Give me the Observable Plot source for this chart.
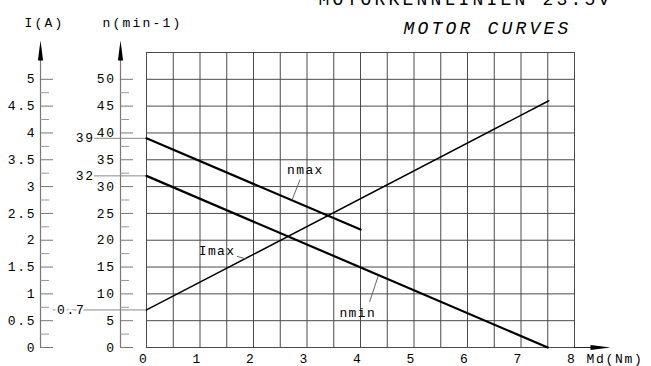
<!DOCTYPE html>
<html>
<head>
<meta charset="utf-8">
<script src="https://cdn.jsdelivr.net/npm/d3@7"></script>
<script src="https://cdn.jsdelivr.net/npm/@observablehq/plot@0.6"></script>
<style>
  body { margin: 0; background: #fff; }
  svg { overflow: hidden; }
  text[aria-label="title"] { letter-spacing: 3.2px; }
  text[aria-label="axis-title"] { letter-spacing: 2.2px; }
  text[aria-label="tick-label"] { letter-spacing: 1.7px; }
  text[aria-label="curve-label"] { letter-spacing: 1.4px; }
</style>
</head>
<body>
<div id="chart"></div>
<script>
// ---- data ----
const torqueTicks = [0, 1, 2, 3, 4, 5, 6, 7, 8];
const speedTicks = [0, 5, 10, 15, 20, 25, 30, 35, 40, 45, 50];
const currentTicks = [0, 0.5, 1, 1.5, 2, 2.5, 3, 3.5, 4, 4.5, 5];
const currentTickLabels = ["0", "0.5", "1", "1.5", "2", "2.5", "3", "3.5", "4", "4.5", "5"];

const nmaxTorque = [0, 4];
const nmaxSpeed = [39, 22];
const nminTorque = [0, 7.5];
const nminSpeed = [32, 0];
const imaxTorque = [0, 7.52];
const imaxCurrent = [0.7, 4.6];

const markedSpeeds = [39, 32];
const markedCurrents = [0.7];

const curveNames = ["nmax", "Imax", "nmin"];
const curveLabelTorque = [2.97, 1.32, 3.95];
const curveLabelSpeed = [33.2, 18.1, 6.5];
const leaderTorque1 = [2.87, 1.69, 4.17];
const leaderSpeed1 = [31.3, 17.0, 8.5];
const leaderTorque2 = [2.72, 1.86, 4.33];
const leaderSpeed2 = [27.5, 16.5, 13.3];

const SPEED_PER_AMP = 10; // current axis: 5 A at the same height as 50 min-1

// ---- layout ----
const W = 651, H = 366;
const xDomain = [0, 8], xRange = [146, 574];
const yDomain = [0, 55], yRange = [347, 52];
const xs = d3.scaleLinear(xDomain, xRange);
const ys = d3.scaleLinear(yDomain, yRange);
const px = p => xs.invert(p);
const py = p => ys.invert(p);
const I_AXIS = 40, N_AXIS = 120;
const LS = 1.7;
const TICK_FONT = 13;
const tag = name => () => name;

const gridX = d3.range(0, 8.001, 0.5);
const gridY = d3.range(0, 55.001, 5);
const minorSpeed = speedTicks.slice(0, -1).map(d => d + 2.5);

const rows = (xa, ya) => xa.map((x, i) => ({x, y: ya[i]}));
const nmaxData = rows(nmaxTorque, nmaxSpeed);
const nminData = rows(nminTorque, nminSpeed);
const imaxData = rows(imaxTorque, imaxCurrent.map(c => c * SPEED_PER_AMP));

const arrowHead = {
  draw(ctx) { ctx.moveTo(0, -20); ctx.lineTo(2.6, 0); ctx.lineTo(-2.6, 0); ctx.closePath(); }
};

const chart = Plot.plot({
  width: W, height: H,
  marginTop: 0, marginRight: 0, marginBottom: 0, marginLeft: 0,
  x: {domain: xDomain, range: xRange, axis: null},
  y: {domain: yDomain, range: yRange, axis: null},
  style: {fontFamily: "'Liberation Mono', 'DejaVu Sans Mono', monospace", fontSize: "12px", color: "#000", background: "#fff"},
  marks: [
    // grid
    Plot.ruleX(gridX, {x: d => d, y1: 0, y2: 55, stroke: "#4a4a4a", strokeWidth: 1}),
    Plot.ruleY(gridY, {y: d => d, x1: 0, x2: 8, stroke: "#4a4a4a", strokeWidth: 1}),
    // x axis extension + arrow
    Plot.ruleY([0], {x1: 8, x2: px(592), stroke: "#222"}),
    Plot.dot([0], {x: px(590), y: 0, symbol: arrowHead, rotate: 90, fill: "#000", stroke: null}),
    // left axes lines + arrows
    Plot.ruleX([px(I_AXIS), px(N_AXIS)], {x: d => d, y1: 0, y2: py(60), stroke: "#777", strokeWidth: 1.2}),
    Plot.dot([px(I_AXIS), px(N_AXIS)], {x: d => d, y: py(60), symbol: arrowHead, fill: "#000", stroke: null}),
    // current axis ticks
    Plot.ruleY(currentTicks, {y: d => d * SPEED_PER_AMP, x1: px(I_AXIS), x2: px(I_AXIS + 13), stroke: "#777"}),
    Plot.ruleY(minorSpeed, {y: d => d, x1: px(I_AXIS), x2: px(I_AXIS + 9), stroke: "#999"}),
    // speed axis ticks
    Plot.ruleY(speedTicks, {y: d => d, x1: px(N_AXIS), x2: px(N_AXIS + 13), stroke: "#777"}),
    Plot.ruleY(minorSpeed, {y: d => d, x1: px(N_AXIS), x2: px(N_AXIS + 9), stroke: "#999"}),
    // tick labels
    Plot.text(currentTicks, {x: px(34 + LS), y: d => d * SPEED_PER_AMP, text: (d, i) => currentTickLabels[i], textAnchor: "end", fontSize: TICK_FONT, ariaLabel: tag("tick-label")}),
    Plot.text(speedTicks, {x: px(113.5 + LS), y: d => d, text: d => String(d), textAnchor: "end", fontSize: TICK_FONT, ariaLabel: tag("tick-label")}),
    Plot.text(torqueTicks, {x: d => d, y: 0, dx: -3.5 + LS / 2, dy: 11, text: d => String(d), fontSize: TICK_FONT, ariaLabel: tag("tick-label")}),
    Plot.text(["Md(Nm)"], {x: px(586), y: 0, dy: 11, textAnchor: "start", fontSize: TICK_FONT, ariaLabel: tag("tick-label")}),
    // axis titles
    Plot.text(["I(A)"], {x: px(44), y: py(22), fontSize: 13, ariaLabel: tag("axis-title")}),
    Plot.text(["n(min-1)"], {x: px(142), y: py(22), fontSize: 13, ariaLabel: tag("axis-title")}),
    // marked values
    Plot.ruleY(markedSpeeds, {y: d => d, x1: px(94), x2: 0, stroke: "#888"}),
    Plot.text(markedSpeeds, {x: px(92.5 + LS), y: d => d, text: d => String(d), textAnchor: "end", fontSize: TICK_FONT, ariaLabel: tag("tick-label")}),
    Plot.ruleY(markedCurrents, {y: d => d * SPEED_PER_AMP, x1: px(I_AXIS + 13), x2: 0, stroke: "#888"}),
    Plot.text(markedCurrents, {x: px(70 + LS / 2), y: d => d * SPEED_PER_AMP, text: d => String(d), fontSize: TICK_FONT, stroke: "#fff", strokeWidth: 5, fill: "#000", ariaLabel: tag("tick-label")}),
    // curves
    Plot.line(imaxData, {x: "x", y: "y", stroke: "#000", strokeWidth: 1.5}),
    Plot.line(nmaxData, {x: "x", y: "y", stroke: "#000", strokeWidth: 2.2}),
    Plot.line(nminData, {x: "x", y: "y", stroke: "#000", strokeWidth: 2.2}),
    // curve labels with leaders
    Plot.link(curveNames, {x1: (d, i) => leaderTorque1[i], y1: (d, i) => leaderSpeed1[i], x2: (d, i) => leaderTorque2[i], y2: (d, i) => leaderSpeed2[i], stroke: "#555", strokeWidth: 0.9}),
    Plot.text(curveNames, {x: (d, i) => curveLabelTorque[i], y: (d, i) => curveLabelSpeed[i], text: d => d, fontSize: 13, ariaLabel: tag("curve-label")}),
    // titles
    Plot.text(["MOTORKENNLINIEN 23.5V"], {frameAnchor: "top-left", textAnchor: "middle", lineAnchor: "middle", dx: 465, dy: -1.5, fontSize: 18, ariaLabel: tag("title")}),
    Plot.text(["MOTOR CURVES"], {frameAnchor: "top-left", textAnchor: "middle", lineAnchor: "middle", dx: 487, dy: 27.3, fontSize: 18, fontStyle: "italic", ariaLabel: tag("title")})
  ]
});
document.getElementById("chart").appendChild(chart);
</script>
</body>
</html>
